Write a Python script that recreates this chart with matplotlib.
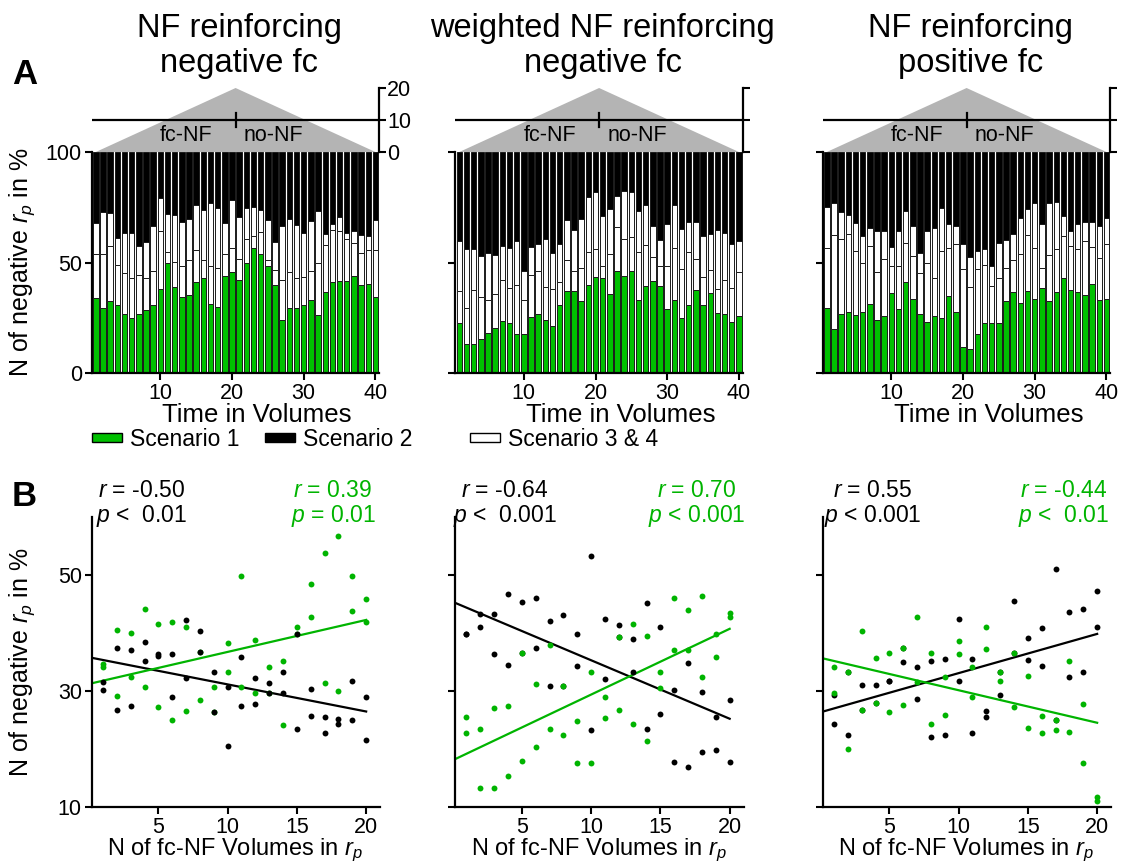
import numpy as np
import matplotlib
matplotlib.use('Agg')
import matplotlib.pyplot as plt
from matplotlib.patches import Rectangle

plt.rcParams['font.family'] = ['Liberation Sans', 'DejaVu Sans']
plt.rcParams['mathtext.fontset'] = 'custom'
plt.rcParams['mathtext.rm'] = 'Liberation Sans'
plt.rcParams['mathtext.it'] = 'Liberation Sans:italic'
plt.rcParams['mathtext.bf'] = 'Liberation Sans:bold'

# ---------------- data ----------------
titles = ['NF reinforcing\nnegative fc', 'weighted NF reinforcing\nnegative fc', 'NF reinforcing\npositive fc']
volumes = list(range(1, 41))
fcnf_x = list(range(1, 21))

# cumulative boundaries of the stacked bars (in %): top of Scenario 1, top of Scenario 3, top of Scenario 3 & 4
p1_s1 = [33.9, 29.2, 32.5, 30.6, 26.9, 24.8, 26.5, 28.6, 30.6, 38.1, 49.9, 38.7, 34.2, 35.1, 41.1, 42.8, 31.2, 29.8, 43.7, 45.8,
         41.9, 49.9, 56.4, 53.7, 48.3, 39.6, 24.1, 29.5, 29.5, 30.6, 33.1, 26.2, 36.8, 41.0, 41.6, 41.5, 43.7, 39.6, 40.4, 34.6]
p1_s3 = [53.7, 53.7, 57.3, 48.7, 45.4, 43.0, 44.3, 42.8, 46.0, 64.4, 54.6, 50.1, 48.4, 51.3, 55.8, 51.3, 48.6, 47.4, 53.7, 56.4,
         51.4, 60.8, 62.2, 64.0, 51.3, 46.4, 42.2, 45.8, 43.1, 43.4, 46.0, 49.9, 57.9, 64.6, 64.3, 60.8, 58.7, 54.2, 55.7, 55.5]
p1_s4 = [67.9, 72.8, 72.2, 61.1, 63.2, 63.2, 57.5, 59.2, 66.4, 79.1, 72.0, 71.7, 68.2, 69.9, 75.9, 73.8, 76.7, 74.7, 67.9, 78.1,
         70.7, 74.6, 75.2, 73.8, 69.1, 59.5, 66.3, 69.7, 67.0, 63.5, 68.7, 73.1, 62.8, 67.2, 70.5, 63.2, 64.3, 62.5, 62.2, 69.3]

p2_s1 = [22.7, 13.3, 13.3, 15.6, 18.0, 20.3, 23.4, 22.4, 17.5, 17.5, 25.3, 26.6, 24.2, 21.3, 30.6, 37.1, 37.1, 32.4, 39.6, 43.3,
         42.8, 35.6, 46.0, 43.7, 46.0, 33.1, 39.3, 41.5, 39.3, 28.9, 33.1, 24.8, 30.9, 37.7, 30.9, 36.3, 27.2, 26.9, 23.1, 25.6]
p2_s3 = [36.9, 29.5, 37.7, 34.2, 33.1, 35.7, 42.1, 38.6, 39.9, 33.1, 44.5, 46.1, 39.0, 38.0, 41.1, 51.0, 46.3, 47.4, 54.9, 56.3,
         48.6, 53.9, 66.0, 60.7, 61.6, 54.6, 57.9, 52.6, 48.3, 48.3, 56.4, 46.9, 54.9, 51.6, 43.6, 46.6, 37.8, 42.2, 38.3, 45.7]
p2_s4 = [59.6, 56.3, 56.3, 52.8, 54.2, 53.4, 57.5, 56.4, 59.6, 46.3, 57.0, 58.2, 60.5, 54.3, 58.5, 69.3, 64.6, 69.6, 79.6, 81.7,
         71.0, 74.0, 80.0, 82.5, 81.7, 73.4, 75.9, 66.4, 60.2, 67.3, 76.2, 65.2, 68.5, 68.5, 62.2, 62.9, 64.9, 63.2, 58.4, 59.6]

p3_s1 = [29.5, 20.0, 26.6, 27.8, 26.2, 27.4, 31.3, 24.2, 25.6, 36.2, 28.9, 41.1, 33.3, 26.9, 23.3, 25.6, 24.8, 34.9, 27.5, 11.6,
         10.9, 17.5, 22.8, 22.8, 22.4, 32.5, 36.5, 31.5, 37.1, 33.7, 38.3, 32.4, 36.5, 42.8, 37.4, 36.5, 35.4, 40.4, 33.1, 33.7]
p3_s3 = [56.4, 62.5, 60.8, 62.8, 55.1, 49.9, 57.6, 45.8, 51.6, 48.3, 48.3, 58.7, 53.1, 45.4, 49.9, 42.8, 55.4, 56.4, 58.2, 46.9,
         38.7, 46.9, 48.7, 39.3, 43.1, 47.7, 51.0, 53.7, 62.6, 56.6, 47.7, 53.6, 56.0, 62.0, 57.5, 56.0, 59.6, 57.0, 52.2, 58.4]
p3_s4 = [75.3, 77.0, 72.8, 71.7, 67.9, 62.2, 65.4, 64.4, 64.1, 57.2, 64.1, 73.1, 66.4, 54.2, 64.1, 65.4, 74.7, 67.2, 66.4, 58.4,
         52.3, 55.4, 56.0, 48.4, 58.7, 60.4, 62.8, 70.3, 74.0, 76.9, 67.6, 76.9, 77.6, 71.0, 64.4, 67.6, 68.5, 68.5, 66.4, 70.3]

# fc-NF window profile (number of fc-NF volumes in the correlation window)
window_x = [1, 20.5, 40]
window_n = [0, 20, 0]

# scatter: two points per x (one from each half of the run)
p1_black_a = [31.6, 37.5, 37.1, 38.4, 36.3, 36.4, 42.2, 40.4, 33.3, 30.7, 35.8, 32.3, 31.4, 33.3, 39.9, 30.3, 25.6, 25.1, 31.7, 29.0]
p1_black_b = [30.1, 26.8, 27.5, 35.2, 36.1, 29.0, 32.3, 36.8, 26.3, 20.5, 27.5, 27.7, 29.6, 29.6, 23.5, 25.7, 22.8, 24.3, 25.0, 21.6]
p1_green_a = [34.7, 40.6, 40.0, 44.1, 41.6, 41.9, 41.1, 28.5, 30.7, 38.2, 49.9, 38.8, 34.2, 35.1, 41.1, 48.4, 53.8, 56.7, 49.9, 45.9]
p1_green_b = [34.1, 29.2, 32.4, 30.7, 27.2, 25.0, 26.6, 36.8, 26.3, 33.3, 30.7, 29.6, 29.6, 24.1, 39.9, 42.8, 31.4, 30.0, 43.8, 41.9]

p2_black_a = [39.9, 43.2, 43.2, 46.8, 45.4, 46.1, 42.0, 43.1, 39.9, 53.3, 42.5, 41.4, 39.0, 45.2, 41.0, 30.1, 34.8, 29.9, 25.5, 28.4]
p2_black_b = [39.9, 41.1, 36.3, 34.4, 36.6, 37.5, 30.9, 30.9, 34.3, 23.2, 32.1, 39.3, 33.3, 23.5, 26.1, 17.8, 16.9, 19.4, 19.8, 17.8]
p2_green_a = [25.5, 23.4, 27.1, 27.5, 36.6, 31.2, 37.9, 30.9, 24.9, 33.2, 28.9, 39.3, 41.6, 39.4, 33.2, 46.1, 43.9, 46.4, 39.9, 43.5]
p2_green_b = [22.7, 13.3, 13.3, 15.4, 18.0, 20.3, 23.5, 22.5, 17.6, 17.6, 25.4, 26.7, 24.3, 21.3, 30.6, 37.1, 37.1, 32.4, 35.8, 42.8]

p3_black_a = [29.3, 22.5, 31.0, 31.0, 31.7, 35.0, 34.2, 35.2, 35.5, 42.4, 35.5, 26.6, 29.3, 45.5, 39.1, 40.9, 51.1, 43.6, 44.1, 47.2]
p3_black_b = [24.3, 33.3, 26.8, 27.9, 31.7, 37.5, 28.6, 22.0, 22.5, 31.8, 22.8, 25.6, 33.3, 36.6, 35.3, 34.3, 25.0, 32.4, 33.3, 41.1]
p3_green_a = [34.1, 33.3, 40.4, 35.7, 36.6, 37.5, 42.8, 36.6, 32.5, 38.6, 34.1, 41.1, 33.3, 36.6, 32.6, 25.7, 25.0, 35.1, 27.8, 11.8]
p3_green_b = [29.7, 20.0, 26.8, 27.9, 26.3, 27.6, 31.6, 24.3, 25.8, 36.3, 29.0, 37.2, 31.7, 27.3, 23.6, 22.7, 23.3, 23.0, 17.6, 11.1]

stats_black = ['$r$ = -0.50\n$p$ <  0.01', '$r$ = -0.64\n$p$ <  0.001', '$r$ = 0.55\n$p$ < 0.001']
stats_green = ['$r$ = 0.39\n$p$ = 0.01', '$r$ = 0.70\n$p$ < 0.001', '$r$ = -0.44\n$p$ <  0.01']

bars = [(p1_s1, p1_s3, p1_s4), (p2_s1, p2_s3, p2_s4), (p3_s1, p3_s3, p3_s4)]
scat = [(p1_black_a, p1_black_b, p1_green_a, p1_green_b),
        (p2_black_a, p2_black_b, p2_green_a, p2_green_b),
        (p3_black_a, p3_black_b, p3_green_a, p3_green_b)]
black_on_top = [True, False, False]

# ---------------- style / layout ----------------
W, H = 1123, 864
GREEN_BAR = '#00c000'
GREEN = '#00b400'
GRAY = '#b4b4b4'
FS_TICK = 15.5
lefts = [91.5, 455.0, 822.5]
panel_w = 287.5

fig = plt.figure(figsize=(W / 100, H / 100), dpi=100)

def fx(px):
    return px / W

def fy(py):
    return 1 - py / H

def style_axes(ax):
    for s in ['top', 'right']:
        ax.spines[s].set_visible(False)
    for s in ['left', 'bottom']:
        ax.spines[s].set_linewidth(1.6)
    ax.tick_params(direction='out', length=5, width=1.5, labelsize=FS_TICK, pad=2)

for i in range(3):
    L = lefts[i]
    s1, s3, s4 = [np.array(a) for a in bars[i]]
    x = np.array(volumes)

    # ---- stacked bars ----
    ax = fig.add_axes([fx(L), fy(373), panel_w / W, 221 / H])
    kw = dict(width=0.76, edgecolor='#1a1a1a', linewidth=0.7)
    ax.bar(x, s1, color=GREEN_BAR, **kw)
    ax.bar(x, s3 - s1, bottom=s1, color='white', **kw)
    ax.bar(x, s4 - s3, bottom=s3, color='white', **kw)
    ax.bar(x, 100 - s4, bottom=s4, color='black', **kw)
    ax.set_xlim(0.4, 40.5)
    ax.set_ylim(0, 100)
    ax.set_xticks([10, 20, 30, 40])
    ax.set_yticks([0, 50, 100])
    style_axes(ax)
    fig.text(fx(L + panel_w / 2 + 22), fy(415), 'Time in Volumes', ha='center', va='center', fontsize=18.5)
    if i == 0:
        fig.text(fx(22), fy(262), 'N of negative $r_p$ in %', ha='center', va='center',
                 rotation=90, fontsize=18)
    else:
        ax.set_yticklabels([])

    # ---- fc-NF window triangle ----
    axt = fig.add_axes([fx(L), fy(152), panel_w / W, 64 / H])
    axt.fill(window_x, window_n, color=GRAY, lw=0, zorder=1)
    axt.axhline(10, color='black', lw=1.6, zorder=2)
    axt.plot([20.5, 20.5], [7.8, 12.2], color='black', lw=1.6, zorder=2)
    axt.set_xlim(0.4, 40.5)
    axt.set_ylim(0, 20)
    for s in ['top', 'left', 'bottom']:
        axt.spines[s].set_visible(False)
    axt.spines['right'].set_linewidth(1.6)
    axt.set_xticks([])
    axt.yaxis.tick_right()
    axt.set_yticks([0, 10, 20])
    axt.tick_params(direction='out', length=5, width=1.5, labelsize=FS_TICK, pad=1)
    axt.patch.set_alpha(0)
    if i != 0:
        axt.set_yticklabels([])
    axt.text(13.6, 5.3, 'fc-NF', ha='center', va='center', fontsize=15.5)
    axt.text(25.8, 5.3, 'no-NF', ha='center', va='center', fontsize=15.5)

    # title
    fig.text(fx(L + panel_w / 2 + 4), fy(46), titles[i], ha='center', va='center',
             fontsize=23.5, linespacing=1.2)

    # ---- scatter ----
    axs = fig.add_axes([fx(L), fy(807), (panel_w + 1) / W, 290 / H])
    ba, bb, ga, gb = [np.array(a) for a in scat[i]]
    xs = np.array(fcnf_x)
    zb, zg = (4, 3) if black_on_top[i] else (3, 4)
    axs.scatter(np.r_[xs, xs], np.r_[ba, bb], s=18, color='black', lw=0, zorder=zb)
    axs.scatter(np.r_[xs, xs], np.r_[ga, gb], s=18, color=GREEN, lw=0, zorder=zg)
    xl = np.array([0.17, 20])
    for yy, col in [(np.r_[ba, bb], 'black'), (np.r_[ga, gb], GREEN)]:
        k, d = np.polyfit(np.r_[xs, xs], yy, 1)
        axs.plot(xl, k * xl + d, color=col, lw=1.6, zorder=2)
    axs.set_xlim(0.17, 21)
    axs.set_ylim(10, 60)
    axs.set_xticks([5, 10, 15, 20])
    axs.set_yticks([10, 30, 50])
    style_axes(axs)
    fig.text(fx(L + panel_w / 2), fy(850), 'N of fc-NF Volumes in $r_p$', ha='center', va='center',
             fontsize=17)
    if i == 0:
        fig.text(fx(22), fy(662), 'N of negative $r_p$ in %', ha='center', va='center',
                 rotation=90, fontsize=18)
    else:
        axs.set_yticklabels([])
    fig.text(fx(L + 50), fy(504), stats_black[i], ha='center', va='center',
             fontsize=16.5, multialignment='center', linespacing=1.05, color='black')
    fig.text(fx(L + panel_w - 46), fy(504), stats_green[i], ha='center', va='center',
             fontsize=16.5, multialignment='center', linespacing=1.05, color=GREEN)

# ---------------- legend ----------------
leg_items = [(92, GREEN_BAR, 'Scenario 1'), (265, 'black', 'Scenario 2'), (470, 'white', 'Scenario 3 & 4')]
for px, col, lab in leg_items:
    fig.add_artist(Rectangle((fx(px), fy(442)), 30 / W, 9 / H, transform=fig.transFigure,
                             facecolor=col, edgecolor='black', lw=1.0))
    fig.text(fx(px + 38), fy(439), lab, ha='left', va='center', fontsize=16.5)

fig.text(fx(12), fy(75), 'A', fontsize=25, fontweight='bold', ha='left', va='center')
fig.text(fx(12), fy(497), 'B', fontsize=25, fontweight='bold', ha='left', va='center')

fig.savefig('out.png', dpi=100)
